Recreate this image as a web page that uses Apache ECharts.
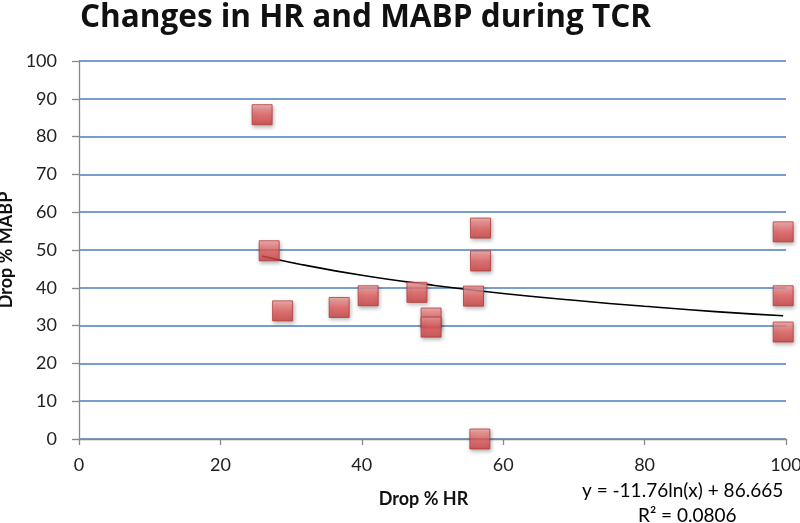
<!DOCTYPE html>
<html>
<head>
<meta charset="utf-8">
<title>Changes in HR and MABP during TCR</title>
<script src="https://cdn.jsdelivr.net/npm/echarts@6/dist/echarts.min.js"></script>
<style>
  html, body { margin: 0; padding: 0; background: #fff; }
  #chart { width: 800px; height: 523px; }
</style>
</head>
<body>
<div id="chart"></div>
<script>
// values
const hrDrop = [25.9, 26.9, 28.8, 36.8, 40.9, 47.8, 49.8, 49.8, 55.8, 56.8, 56.8, 56.7, 99.6, 99.6, 99.6];
const mabpDrop = [85.8, 49.8, 33.9, 34.8, 37.9, 38.8, 32.0, 29.6, 37.8, 47.1, 55.8, 0, 54.8, 37.9, 28.3];

// log trend line
const trendX = [25.9, 30, 40, 50, 60, 70, 80, 90, 99.6];
const trendY = [48.4, 46.7, 43.3, 40.7, 38.5, 36.7, 35.1, 33.7, 32.6];

const xTicks = [0, 20, 40, 60, 80, 100];
const yTicks = [0, 10, 20, 30, 40, 50, 60, 70, 80, 90, 100];

const titleText = 'Changes in HR and MABP during TCR';
const xName = 'Drop % HR';
const yName = 'Drop % MABP';
const eqText = 'y = -11.76ln(x) + 86.665';
const r2Text = 'R² = 0.0806';

const FONT = 'Lato, "Open Sans", sans-serif';

const chart = echarts.init(document.getElementById('chart'));

const points = hrDrop.map((x, i) => [x, mabpDrop[i]]);
const trend = trendX.map((x, i) => [x, trendY[i]]);

chart.setOption({
  animation: false,
  textStyle: { fontFamily: FONT },
  title: {
    text: titleText,
    left: 75,
    top: -3,
    textStyle: { fontFamily: '"Open Sans", Lato, sans-serif', fontSize: 31.5, fontWeight: 'bold', color: '#111' },
  },
  grid: { left: 79, right: 14, top: 61, bottom: 84, outerBoundsMode: 'none', containLabel: false },
  xAxis: {
    type: 'value',
    min: xTicks[0],
    max: xTicks[xTicks.length - 1],
    interval: 20,
    name: xName,
    nameLocation: 'middle',
    nameGap: 51,
    nameTextStyle: { fontFamily: FONT, fontSize: 18, fontWeight: 'bold', color: '#111', padding: [0, 18, 0, 0] },
    axisLine: { lineStyle: { color: '#888', width: 1.3 } },
    axisTick: { show: true, length: 6, lineStyle: { color: '#888', width: 1.3 } },
    axisLabel: { fontSize: 18, color: '#222', margin: 17 },
    splitLine: { show: false },
  },
  yAxis: {
    type: 'value',
    min: yTicks[0],
    max: yTicks[yTicks.length - 1],
    interval: 10,
    name: yName,
    nameLocation: 'middle',
    nameGap: 61,
    nameRotate: 90,
    nameTextStyle: { fontFamily: FONT, fontSize: 18, fontWeight: 'bold', color: '#111' },
    axisLine: { show: true, lineStyle: { color: '#888', width: 1.3 } },
    axisTick: { show: true, length: 7, lineStyle: { color: '#888', width: 1.3 } },
    axisLabel: { fontSize: 18, color: '#222', margin: 22 },
    splitLine: { show: true, lineStyle: { color: '#4a7ebb', width: 1.5 } },
  },
  series: [
    {
      name: 'Trend',
      type: 'line',
      data: trend,
      smooth: true,
      symbol: 'none',
      silent: true,
      lineStyle: { color: '#000', width: 1.6 },
      z: 3,
    },
    {
      name: 'Drop',
      type: 'scatter',
      data: points,
      symbol: 'rect',
      symbolSize: 20,
      itemStyle: {
        color: new echarts.graphic.LinearGradient(0, 0, 0, 1, [
          { offset: 0, color: '#f5a8a8' },
          { offset: 0.5, color: '#e45e5e' },
          { offset: 1, color: '#cc3f3f' },
        ]),
        borderColor: '#b53838',
        borderWidth: 1,
        shadowBlur: 4,
        shadowColor: 'rgba(0,0,0,0.35)',
        shadowOffsetX: 1,
        shadowOffsetY: 2,
      },
      z: 4,
    },
  ],
  graphic: [
    {
      type: 'text',
      left: 582,
      top: 481,
      style: { text: eqText, fontFamily: FONT, fontSize: 19, fill: '#000' },
    },
    {
      type: 'text',
      left: 638,
      top: 506,
      style: { text: r2Text, fontFamily: FONT, fontSize: 19, fill: '#000' },
    },
  ],
});
</script>
</body>
</html>
